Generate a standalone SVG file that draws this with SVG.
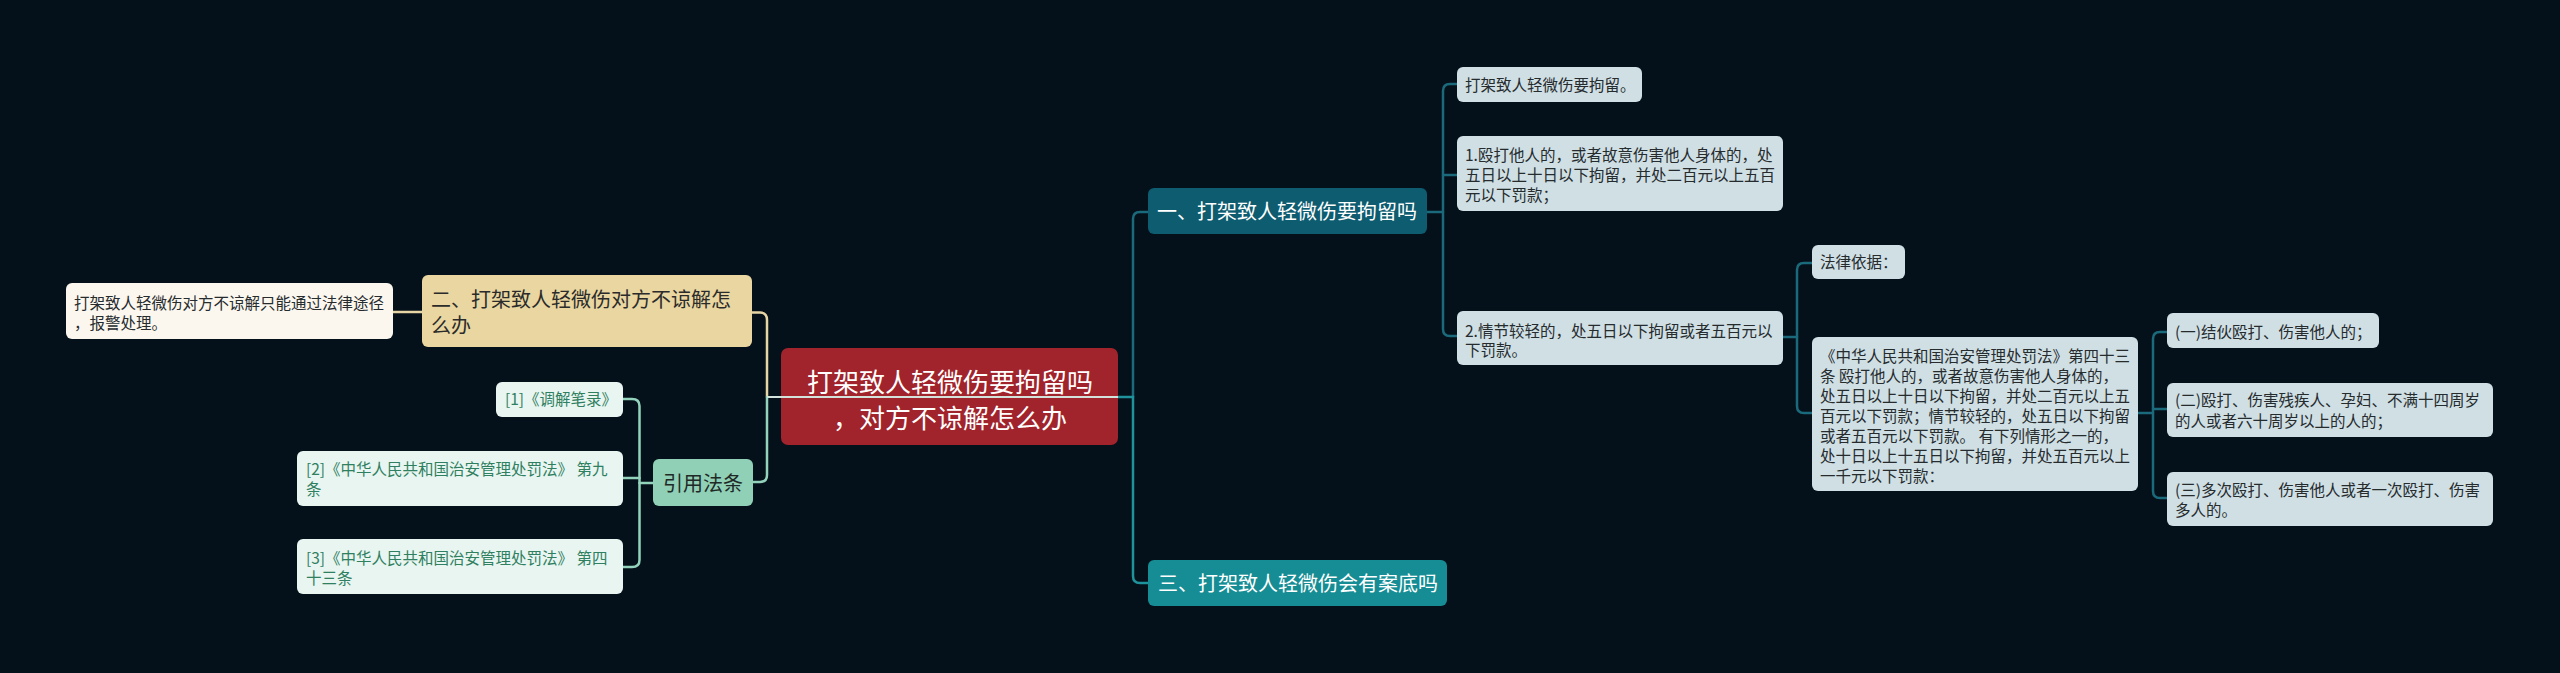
<svg xmlns="http://www.w3.org/2000/svg" width="2560" height="673" viewBox="0 0 2560 673">
<style>
text{font-family:"Noto Sans CJK SC","Noto Sans",sans-serif;}
.c{fill:none;stroke-width:2.5;stroke-linecap:round;}
.cream{stroke:#e6d6a6;}
.mint{stroke:#93d3bb;}
.tdark{stroke:#1b6a7c;}
.tlight{stroke:#1f939b;}
.leaf{font-size:15.5px;fill:#262b2e;}
.rleaf{fill:#cfdfe4;}
.ref{font-size:15.5px;fill:#2f7f61;}
.l1{font-size:20px;}
</style>
<rect width="2560" height="673" fill="#04111a"/>
<g id="connectors">
<path class="c cream" d="M393,312 H422"/>
<path class="c cream" d="M752,312.5 H760 Q767,312.5 767,320 V397"/>
<path class="c mint" d="M767,397 V475 Q767,482 760,482 H753"/>
<path class="c mint" d="M653,483 H639.5"/>
<path class="c mint" d="M623,399 H632 Q639.5,399 639.5,406 V560 Q639.5,567 632,567 H623"/>
<path class="c mint" d="M623,478 H639.5"/>
<path class="c tdark" d="M1133,397 V219 Q1133,212 1140,212 H1148"/>
<path class="c tlight" d="M1118,397 H1133 V576 Q1133,583 1140,583 H1148"/>
<path class="c tdark" d="M1427,212 H1443"/>
<path class="c tdark" d="M1457,84 H1450 Q1443,84 1443,91 V329 Q1443,336 1450,336 H1457"/>
<path class="c tdark" d="M1443,175 H1457"/>
<path class="c tdark" d="M1783,337 H1797"/>
<path class="c tdark" d="M1812,263 H1804 Q1797,263 1797,270 V406 Q1797,413 1804,413 H1812"/>
<path class="c tdark" d="M2138,413 H2153"/>
<path class="c tdark" d="M2167,332 H2160 Q2153,332 2153,339 V491 Q2153,498 2160,498 H2167"/>
<path class="c tdark" d="M2153,409 H2167"/>
</g>
<g id="root">
<rect x="781" y="348" width="337" height="97" rx="7" fill="#a1232b"/>
<path d="M767,397 H1118" stroke="#d3e3dc" stroke-width="2" fill="none"/>
<text x="950" text-anchor="middle" font-size="26" fill="#ffffff"><tspan x="950" y="391.5">打架致人轻微伤要拘留吗</tspan><tspan x="950" y="428">，对方不谅解怎么办</tspan></text>
</g>
<g id="leafA">
<rect x="66" y="283" width="327" height="56" rx="6" fill="#fbf7ee"/>
<text class="leaf"><tspan x="74" y="308.5">打架致人轻微伤对方不谅解只能通过法律途径</tspan><tspan x="74" y="328.5">，报警处理。</tspan></text>
</g>
<g id="node-two">
<rect x="422" y="275" width="330" height="72" rx="6" fill="#e9d6a0"/>
<text class="l1" fill="#2b2b2b"><tspan x="431" y="307">二、打架致人轻微伤对方不谅解怎</tspan><tspan x="431" y="333">么办</tspan></text>
</g>
<g id="node-ref">
<rect x="653" y="459" width="100" height="47" rx="6" fill="#8fd0b6"/>
<text class="l1" x="703" y="490.5" text-anchor="middle" fill="#1f2a26">引用法条</text>
</g>
<g id="ref1">
<rect x="496" y="382" width="127" height="35" rx="6" fill="#e8f5f0"/>
<text class="ref" x="505" y="405">[1]《调解笔录》</text>
</g>
<g id="ref2">
<rect x="297" y="451" width="326" height="55" rx="6" fill="#e8f5f0"/>
<text class="ref"><tspan x="306" y="475">[2]《中华人民共和国治安管理处罚法》 第九</tspan><tspan x="306" y="495">条</tspan></text>
</g>
<g id="ref3">
<rect x="297" y="539" width="326" height="55" rx="6" fill="#e8f5f0"/>
<text class="ref"><tspan x="306" y="564">[3]《中华人民共和国治安管理处罚法》 第四</tspan><tspan x="306" y="584">十三条</tspan></text>
</g>
<g id="node-one">
<rect x="1148" y="188" width="279" height="46" rx="6" fill="#0d5c6f"/>
<text class="l1" x="1157" y="219" fill="#ffffff">一、打架致人轻微伤要拘留吗</text>
</g>
<g id="node-three">
<rect x="1148" y="560" width="299" height="46" rx="6" fill="#168d94"/>
<text class="l1" x="1158" y="590.5" fill="#ffffff">三、打架致人轻微伤会有案底吗</text>
</g>
<g id="leaf-detain">
<rect class="rleaf" x="1457" y="67" width="185" height="35" rx="6"/>
<text class="leaf" x="1465" y="90.5">打架致人轻微伤要拘留。</text>
</g>
<g id="leaf-1">
<rect class="rleaf" x="1457" y="136" width="326" height="75" rx="6"/>
<text class="leaf"><tspan x="1465" y="161">1.殴打他人的，或者故意伤害他人身体的，处</tspan><tspan x="1465" y="181">五日以上十日以下拘留，并处二百元以上五百</tspan><tspan x="1465" y="201">元以下罚款；</tspan></text>
</g>
<g id="leaf-2">
<rect class="rleaf" x="1457" y="311" width="326" height="54" rx="6"/>
<text class="leaf"><tspan x="1465" y="336.5">2.情节较轻的，处五日以下拘留或者五百元以</tspan><tspan x="1465" y="356">下罚款。</tspan></text>
</g>
<g id="leaf-basis">
<rect class="rleaf" x="1812" y="245" width="93" height="34" rx="6"/>
<text class="leaf" x="1820" y="268">法律依据：</text>
</g>
<g id="leaf-law">
<rect class="rleaf" x="1812" y="337" width="326" height="154" rx="6"/>
<text class="leaf"><tspan x="1820" y="362">《中华人民共和国治安管理处罚法》第四十三</tspan><tspan x="1820" y="382">条 殴打他人的，或者故意伤害他人身体的，</tspan><tspan x="1820" y="402">处五日以上十日以下拘留，并处二百元以上五</tspan><tspan x="1820" y="422">百元以下罚款；情节较轻的，处五日以下拘留</tspan><tspan x="1820" y="442">或者五百元以下罚款。 有下列情形之一的，</tspan><tspan x="1820" y="462">处十日以上十五日以下拘留，并处五百元以上</tspan><tspan x="1820" y="482">一千元以下罚款：</tspan></text>
</g>
<g id="case-1">
<rect class="rleaf" x="2167" y="313" width="212" height="35" rx="6"/>
<text class="leaf" x="2175" y="338">(一)结伙殴打、伤害他人的；</text>
</g>
<g id="case-2">
<rect class="rleaf" x="2167" y="383" width="326" height="54" rx="6"/>
<text class="leaf"><tspan x="2175" y="406">(二)殴打、伤害残疾人、孕妇、不满十四周岁</tspan><tspan x="2175" y="426.5">的人或者六十周岁以上的人的；</tspan></text>
</g>
<g id="case-3">
<rect class="rleaf" x="2167" y="472" width="326" height="54" rx="6"/>
<text class="leaf"><tspan x="2175" y="496">(三)多次殴打、伤害他人或者一次殴打、伤害</tspan><tspan x="2175" y="516">多人的。</tspan></text>
</g>
</svg>
